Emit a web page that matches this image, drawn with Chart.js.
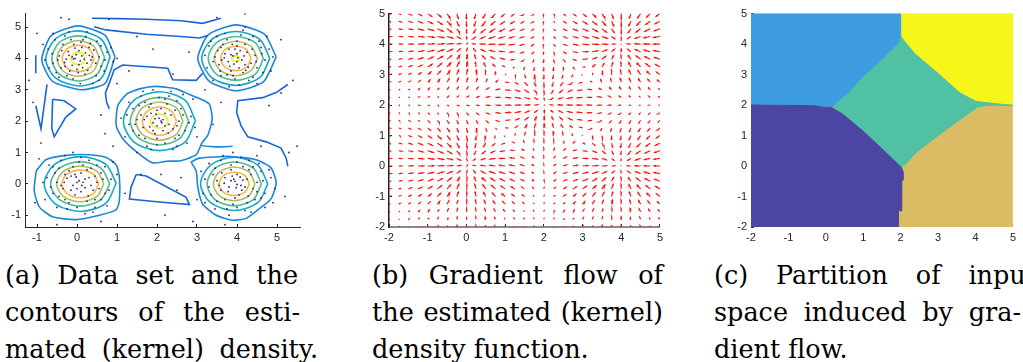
<!DOCTYPE html>
<html>
<head>
<meta charset="utf-8">
<script src="https://cdn.jsdelivr.net/npm/chart.js@4.4.1/dist/chart.umd.min.js"></script>
<style>
  body { margin: 0; background: #fff; width: 1023px; height: 362px; overflow: hidden; position: relative; }
  canvas { position: absolute; top: 0; }
  .cap { position: absolute; font-family: "DejaVu Serif", serif; font-size: 25.5px; color: #000; }
  .cap div { height: 37px; line-height: 37px; white-space: nowrap; text-align: justify; text-align-last: justify; }
</style>
</head>
<body>
<canvas id="density" width="310" height="245" style="left:0px"></canvas>
<canvas id="flow" width="330" height="245" style="left:340px"></canvas>
<canvas id="partition" width="333" height="245" style="left:690px"></canvas>

<div class="cap" style="left:5px;top:257px">
  <div style="width:293px">(a) Data set and the</div>
  <div style="width:295px">contours of the esti-</div>
  <div style="width:313px">mated (kernel) density.</div>
</div>
<div class="cap" style="left:372px;top:257px">
  <div style="width:291px">(b) Gradient flow of</div>
  <div style="width:291px">the estimated (kernel)</div>
  <div style="width:176px">density function.</div>
</div>
<div class="cap" style="left:714px;top:257px">
  <div style="width:322px">(c) Partition of input</div>
  <div style="width:307px">space induced by gra-</div>
  <div style="width:122px">dient flow.</div>
</div>

<script>
// ---- sample points (x, y pairs) ----
const clusterA = [-0.12,4.05, 0.08,3.92, 0.21,4.18, -0.31,3.87, 0.35,3.95, -0.05,4.33, 0.14,3.71, -0.22,4.22, 0.42,4.27, -0.44,4.08,
  0.03,3.55, 0.27,3.62, -0.18,3.6, 0.55,4.05, -0.6,3.85, 0.1,4.52, -0.35,4.45, 0.33,4.48, -0.02,4.12, 0.18,3.98,
  -0.27,3.98, 0.6,3.75, -0.52,3.55, 0.48,3.45, -0.1,3.35, 0.75,4.2, -0.72,4.3, 0.22,4.7, -0.3,4.72, 0.05,3.8,
  -0.09,3.98, 0.31,4.1, -0.4,3.7, 0.12,4.35, -0.15,4.6, 0.68,3.6, -0.8,3.95, 0.9,3.9, 0.4,3.2, -0.55,4.6,
  -0.05,4.0, 0.12,4.08, -0.2,4.1, 0.25,3.85, -0.12,3.78, 0.05,4.25, 0.38,4.05, -0.38,4.25, 0.2,3.5, -0.25,3.45,
  0.47,3.85, -0.48,3.95, 0.15,4.6, -0.08,4.45, 0.6,4.4, -0.62,4.15, 0.0,3.65, 0.3,4.35, -0.3,3.75, 0.5,4.55,
  -0.45,3.4, 0.7,3.95, -0.7,3.7, 0.25,4.85, -0.2,4.85, 0.08,3.2, 0.85,4.35, -0.85,4.45, 0.55,3.3, -0.6,4.8];
const clusterB = [3.9,4.08, 4.12,3.95, 3.78,3.9, 4.25,4.2, 3.95,4.3, 4.05,3.7, 3.7,4.15, 4.35,3.85, 3.85,3.6, 4.2,4.45,
  3.6,4.35, 4.45,4.1, 4.02,4.02, 3.88,4.45, 4.15,3.55, 3.55,3.8, 4.5,3.7, 3.75,4.6, 4.3,4.6, 4.6,4.35,
  3.45,4.05, 4.1,4.75, 3.95,3.35, 4.4,3.4, 3.6,3.45, 4.7,3.95, 3.3,4.4, 4.0,4.15, 4.18,4.08, 3.82,3.75,
  4.28,3.72, 3.68,4.02, 4.55,4.55, 3.5,4.7, 4.8,4.3, 4.05,3.15, 3.25,3.7, 4.85,3.6, 4.2,5.0, 3.4,3.3,
  4.0,3.9, 3.85,4.12, 4.2,3.8, 3.8,4.3, 4.08,4.25, 3.92,3.82, 4.38,4.3, 3.62,3.95, 4.22,3.62, 3.75,3.48,
  4.48,3.9, 3.52,4.25, 4.0,4.55, 4.15,4.9, 3.7,4.8, 4.62,4.15, 3.4,3.9, 4.4,4.7, 3.58,3.6, 4.65,3.55,
  3.9,3.45, 4.3,3.3, 3.35,4.55, 4.75,4.7, 4.0,4.4, 3.65,4.45, 4.5,3.2, 3.2,4.1, 4.9,4.05, 3.8,3.1];
const clusterC = [2.05,2.1, 1.9,1.95, 2.2,1.85, 1.75,2.15, 2.35,2.2, 2.1,2.4, 1.95,1.6, 2.4,1.75, 1.65,1.8, 2.25,2.55,
  1.8,2.45, 2.55,2.0, 1.5,2.05, 2.0,1.85, 2.15,2.05, 1.85,2.25, 2.6,2.4, 1.55,2.5, 2.45,1.45, 1.7,1.45,
  2.05,2.75, 1.4,1.7, 2.7,1.7, 2.3,2.8, 1.6,2.8, 2.0,1.25, 2.85,2.15, 1.25,2.2, 2.5,2.65, 1.75,1.2,
  2.12,1.95, 1.98,2.22, 2.28,1.62, 1.68,2.05, 2.4,1.1, 1.3,2.6, 2.9,2.7, 1.9,3.0, 2.75,1.3, 1.2,1.5,
  2.1,2.0, 1.95,2.08, 2.2,2.25, 1.82,1.82, 2.3,1.9, 2.0,2.35, 1.6,2.2, 2.45,2.35, 1.9,1.7, 2.15,1.7,
  2.5,1.85, 1.7,2.6, 2.2,2.7, 1.45,1.9, 2.65,2.2, 1.85,2.55, 2.55,1.55, 1.55,1.55, 2.0,1.45, 2.35,2.95,
  1.4,2.4, 2.8,1.95, 1.65,2.95, 2.65,2.85, 1.3,1.9, 2.2,1.3, 1.85,1.1, 2.95,1.8, 1.1,2.1, 2.5,1.2];
const clusterD = [0.05,0.1, -0.1,-0.05, 0.2,-0.12, -0.25,0.18, 0.3,0.2, 0.1,0.35, -0.05,-0.35, 0.4,-0.2, -0.35,-0.15, 0.25,0.45,
  -0.2,0.42, 0.5,0.05, -0.5,0.05, 0.0,-0.15, 0.15,0.05, -0.15,0.25, 0.6,0.35, -0.45,0.5, 0.45,-0.5, -0.3,-0.5,
  0.05,0.7, -0.6,-0.3, 0.7,-0.3, 0.3,0.75, -0.4,0.75, 0.0,-0.75, 0.85,0.15, -0.75,0.2, 0.5,0.6, -0.25,-0.8,
  0.12,-0.05, -0.02,0.22, 0.28,-0.38, -0.32,0.05, 0.4,-0.9, -0.7,0.6, 0.9,0.7, -0.1,1.0, 0.75,-0.7, -0.8,-0.5,
  0.0,0.05, 0.2,0.15, -0.15,-0.2, 0.35,-0.05, -0.05,0.3, 0.1,-0.25, -0.3,0.3, 0.45,0.25, -0.4,-0.05, 0.25,-0.55,
  -0.1,0.55, 0.55,-0.15, -0.55,0.35, 0.15,0.6, -0.2,-0.6, 0.65,0.15, -0.65,-0.1, 0.35,0.5, -0.45,-0.4, 0.6,-0.5,
  0.1,0.85, -0.6,0.55, 0.8,-0.2, -0.3,0.9, 0.2,-0.95, -0.85,0.05, 0.7,0.55, -0.5,-0.75, 1.0,0.3, 0.45,-0.75];
const clusterE = [3.95,0.08, 4.1,-0.05, 3.8,-0.1, 4.25,0.15, 3.7,0.2, 4.0,0.3, 4.05,-0.35, 3.6,-0.2, 4.4,-0.15, 3.85,0.45,
  4.3,0.45, 3.5,0.1, 4.5,0.05, 3.98,-0.12, 4.15,0.12, 3.88,0.25, 4.6,0.4, 3.45,0.5, 4.45,-0.5, 3.7,-0.5,
  4.0,0.7, 3.35,-0.35, 4.7,-0.3, 4.3,0.75, 3.6,0.75, 4.0,-0.75, 4.85,0.2, 3.2,0.15, 4.55,0.65, 3.75,-0.8,
  4.12,-0.2, 3.92,0.15, 4.28,-0.38, 3.68,0.02, 4.35,-0.9, 3.3,0.65, 4.9,-0.6, 3.9,1.0, 4.7,-0.75, 3.2,-0.6,
  4.0,-0.02, 3.85,0.1, 4.2,-0.1, 3.78,-0.25, 4.08,0.22, 3.95,-0.45, 4.35,0.3, 3.62,0.35, 4.5,-0.25, 3.55,-0.05,
  4.25,-0.6, 3.85,0.6, 4.15,0.55, 3.4,0.3, 4.65,0.1, 3.5,-0.55, 4.4,0.55, 3.9,-0.65, 4.6,-0.45, 3.3,-0.1,
  4.1,0.85, 3.65,0.9, 4.8,0.45, 3.45,-0.8, 4.2,-0.85, 3.1,0.4, 4.95,-0.15, 3.8,-1.0, 4.5,0.9, 3.15,-0.3];
const strayPoints = [-1.1,2.6, -0.9,1.3, -1.05,-0.6, 0.6,2.2, 1.0,3.2, 0.9,1.2, 1.2,-0.3, 1.6,0.3, 2.6,0.2, 3.0,-0.5,
  3.0,1.5, 3.2,3.0, 2.8,4.2, 1.5,4.7, 0.8,5.25, 3.5,5.3, 4.2,5.42, 5.1,4.6, 5.3,1.0, 5.2,-0.4,
  5.1,2.9, 2.2,-1.0, -0.5,-1.3, 1.0,4.0, -0.4,5.3, -1.0,4.8, 2.4,3.5, 4.6,1.2, 1.5,1.0, 2.9,-1.2,
  -1.2,3.3, -0.95,0.8, 0.7,1.6, 1.3,3.6, 2.1,0.3, 2.5,-0.2, 3.4,1.9, 3.6,2.6, 4.8,2.5, 5.4,3.3,
  5.5,1.2, 0.6,-1.2, 3.7,-1.3, 1.9,4.3, -0.2,5.25];

// ---- density contours, one list per level (closed rings, x, y pairs) ----
const yellowRings = [
  [0.21,4.0, 0.16,4.14, 0.03,4.2, -0.1,4.14, -0.15,4.0, -0.1,3.86, 0.03,3.8, 0.16,3.86, 0.21,4.0],
  [4.07,4.0, 4.04,4.06, 3.97,4.09, 3.9,4.06, 3.87,4.0, 3.9,3.94, 3.97,3.91, 4.04,3.94, 4.07,4.0],
  [2.28,2.0, 2.22,2.16, 2.06,2.22, 1.9,2.16, 1.84,2.0, 1.9,1.84, 2.06,1.78, 2.22,1.84, 2.28,2.0]
];
const orangeRings = [
  [0.43,4.0, 0.31,4.3, 0.03,4.42, -0.25,4.3, -0.37,4.0, -0.25,3.7, 0.03,3.58, 0.31,3.7, 0.43,4.0],
  [4.35,4.0, 4.24,4.28, 3.97,4.39, 3.7,4.28, 3.59,4.0, 3.7,3.72, 3.97,3.61, 4.24,3.72, 4.35,4.0],
  [2.49,2.0, 2.36,2.32, 2.06,2.45, 1.76,2.32, 1.63,2.0, 1.76,1.68, 2.06,1.55, 2.36,1.68, 2.49,2.0],
  [0.54,0.0, 0.41,0.31, 0.08,0.44, -0.25,0.31, -0.38,0.0, -0.25,-0.31, 0.08,-0.44, 0.41,-0.31, 0.54,0.0],
  [4.31,0.0, 4.2,0.26, 3.93,0.37, 3.66,0.26, 3.55,0.0, 3.66,-0.26, 3.93,-0.37, 4.2,-0.26, 4.31,0.0]
];
const oliveRings = [
  [0.56,4.02, 0.41,4.4, 0.03,4.57, -0.35,4.4, -0.5,4.0, -0.35,3.6, 0.03,3.43, 0.41,3.6, 0.56,4.02],
  [4.51,4.0, 4.35,4.39, 3.97,4.55, 3.59,4.39, 3.43,4.0, 3.59,3.61, 3.97,3.45, 4.35,3.61, 4.51,4.0],
  [2.65,2.0, 2.48,2.43, 2.06,2.61, 1.64,2.43, 1.47,2.0, 1.64,1.57, 2.06,1.39, 2.48,1.57, 2.65,2.0],
  [0.67,0.0, 0.5,0.4, 0.08,0.57, -0.34,0.4, -0.51,0.0, -0.34,-0.4, 0.08,-0.57, 0.5,-0.4, 0.67,0.0],
  [4.45,0.0, 4.3,0.38, 3.93,0.54, 3.56,0.38, 3.41,0.0, 3.56,-0.38, 3.93,-0.54, 4.3,-0.38, 4.45,0.0]
];
const greenRings = [
  [0.69,4.03, 0.5,4.51, 0.02,4.72, -0.44,4.51, -0.63,4.0, -0.44,3.49, 0.05,3.28, 0.5,3.49, 0.69,4.03],
  [4.66,4.0, 4.46,4.5, 3.97,4.7, 3.48,4.5, 3.28,4.0, 3.48,3.5, 3.97,3.3, 4.46,3.5, 4.66,4.0],
  [2.79,2.0, 2.58,2.54, 2.06,2.76, 1.54,2.54, 1.33,2.0, 1.54,1.46, 2.06,1.24, 2.58,1.46, 2.79,2.0],
  [0.82,0.0, 0.6,0.5, 0.08,0.71, -0.44,0.5, -0.66,0.0, -0.44,-0.5, 0.08,-0.71, 0.6,-0.5, 0.82,0.0],
  [4.61,0.0, 4.41,0.5, 3.93,0.7, 3.45,0.5, 3.25,0.0, 3.45,-0.5, 3.93,-0.7, 4.41,-0.5, 4.61,0.0]
];
const cyanRings = [
  [0.83,4.05, 0.6,4.62, 0.0,4.88, -0.54,4.62, -0.78,3.98, -0.54,3.38, 0.06,3.12, 0.6,3.36, 0.83,4.05],
  [4.82,4.0, 4.57,4.61, 3.97,4.86, 3.37,4.61, 3.12,4.0, 3.37,3.39, 3.97,3.14, 4.57,3.39, 4.82,4.0],
  [2.96,2.02, 2.7,2.67, 2.06,2.94, 1.42,2.66, 1.16,2.0, 1.42,1.34, 2.06,1.06, 2.7,1.33, 2.96,2.02],
  [0.98,0.02, 0.72,0.62, 0.08,0.87, -0.56,0.62, -0.82,0.0, -0.56,-0.62, 0.08,-0.88, 0.72,-0.62, 0.98,0.02],
  [4.77,0.0, 4.52,0.6, 3.93,0.85, 3.34,0.6, 3.09,0.0, 3.34,-0.6, 3.93,-0.85, 4.52,-0.6, 4.77,0.0]
];
const blueRings = [
  [0.95,4.05, 0.7,4.74, 0.02,5.04, -0.65,4.72, -0.88,3.95, -0.62,3.28, 0.1,3.0, 0.7,3.2, 0.95,4.05],
  [4.98,4.05, 4.68,4.78, 3.97,5.07, 3.28,4.75, 3.02,4.0, 3.3,3.28, 3.98,2.97, 4.66,3.25, 4.98,4.05],
  [3.89,1.2, 3.5,1.18, 3.1,1.24, 3.27,1.55, 3.38,2.07, 3.31,2.54, 3.1,2.7, 2.81,2.85, 2.48,3.03, 1.98,3.11,
   1.56,3.03, 1.23,2.85, 1.02,2.49, 0.98,1.86, 1.14,1.45, 1.48,1.03, 1.89,0.67, 2.23,0.72, 2.6,0.74, 2.98,0.93, 3.1,1.24],
  [-1.02,0.41, -0.78,0.77, -0.28,0.91, 0.31,0.93, 0.73,0.84, 0.98,0.61, 1.06,0.2, 1.06,-0.53, 0.98,-0.82, 0.56,-1.0,
   -0.03,-1.14, -0.61,-1.05, -0.94,-0.74, -1.07,-0.22, -1.02,0.41],
  [2.85,0.7, 3.06,0.82, 3.81,0.875, 4.48,0.77, 4.85,0.51, 4.98,0.04, 4.85,-0.48, 4.56,-0.79, 4.23,-1.1, 3.89,-1.16,
   3.48,-1.0, 3.14,-0.64, 3.02,-0.11, 2.98,0.41, 2.85,0.7]
];
// lowest level: open lines and holes between the clusters
const outerLines = [
  [0.37,5.28, 1.0,5.27, 1.73,5.25, 2.6,5.2, 3.14,5.12, 3.6,5.28],
  [0.43,5.01, 0.72,4.91, 1.73,4.77, 2.6,4.7, 3.06,4.65, 3.27,4.73],
  [0.81,2.39, 0.74,2.6, 0.71,2.9, 0.81,3.22, 0.93,3.64, 1.14,3.79, 2.27,3.69, 2.39,3.32, 2.98,3.3, 3.14,3.53],
  [-1.03,2.49, -0.9,1.76, -0.75,3.17],
  [-0.61,2.7, -0.32,2.65, -0.03,2.39, -0.28,2.13, -0.57,1.5, -0.63,1.76, -0.61,2.7],
  [-1.03,4.1, -1.03,3.53],
  [1.48,0.3, 1.73,0.25, 2.73,-0.43, 2.81,-0.66, 2.06,-0.58, 1.31,-0.48, 1.35,-0.11, 1.48,0.3],
  [5.27,3.17, 4.98,2.91, 4.64,2.75, 4.02,2.65, 3.99,2.28, 4.1,1.86, 4.27,1.5, 4.73,1.34, 5.1,1.14, 5.23,0.82, 5.27,0.56]
];

// ---- gradient flow grid and kernel width ----
const flowGrid = [-2,-1.75,-1.5,-1.25,-1,-0.75,-0.5,-0.25,0,0.25,0.5,0.75,1,1.25,1.5,1.75,2,2.25,2.5,2.75,3,3.25,3.5,3.75,4,4.25,4.5,4.75,5];
const bandwidth = 0.7;

// ---- partition regions (polygons, x, y pairs) ----
const regionPurple = [-2,-2, 1.94,-2, 1.94,-1.47, 2.03,-1.47, 2.03,-0.5, 2.07,-0.45, 2.07,-0.2, 2.02,-0.05,
  1.6,0.45, 1.0,1.14, 0.45,1.7, 0.15,1.92, -0.1,1.93, -0.3,1.98, -2,2.0];
const regionBlue = [-2,2.0, -0.3,1.98, -0.1,1.93, 0.15,1.92, 0.55,2.35, 1.0,2.95, 1.5,3.5, 1.92,4.02, 2.0,4.25, 2.0,5, -2,5];
const regionTeal = [0.15,1.92, 0.45,1.7, 1.0,1.14, 1.6,0.45, 2.02,-0.05, 2.12,0.05, 2.46,0.49, 3.15,1.14, 4.05,1.93, 4.3,1.99,
  5,1.99, 4.57,2.04, 4.01,2.12, 3.58,2.4, 2.98,3.06, 2.38,3.68, 2.0,4.25, 1.92,4.02, 1.5,3.5, 1.0,2.95, 0.55,2.35];
const regionYellow = [2.0,5, 5,5, 5,1.99, 4.57,2.04, 4.01,2.12, 3.58,2.4, 2.98,3.06, 2.38,3.68, 2.0,4.25];
const regionTan = [5,-2, 1.94,-2, 1.94,-1.47, 2.03,-1.47, 2.03,-0.5, 2.07,-0.45, 2.07,-0.2, 2.02,-0.05, 2.12,0.05,
  2.46,0.49, 3.15,1.14, 4.05,1.93, 4.3,1.99, 5,1.99];

const axisTicksA = [-1, 0, 1, 2, 3, 4, 5];
const axisTicksBC = [-2, -1, 0, 1, 2, 3, 4, 5];

// ---- helpers ----
const toXY = flat => {
  const out = [];
  for (let i = 0; i < flat.length; i += 2) out.push({x: flat[i], y: flat[i + 1]});
  return out;
};

function axis(min, max, ticks, size, horizontal) {
  return {
    type: 'linear', min, max,
    afterBuildTicks: s => { s.ticks = ticks.map(v => ({value: v})); },
    afterFit: s => { if (horizontal) s.height = size; else s.width = size; },
    grid: {drawOnChartArea: false, drawTicks: true, tickLength: -3, color: '#262626'},
    border: {display: true, color: '#262626', width: 1},
    ticks: {padding: 7, color: '#262626', font: {size: 11}, maxRotation: 0, autoSkip: false}
  };
}

function baseOptions(pad, xs, ys) {
  return {
    responsive: false, animation: false, devicePixelRatio: 1, events: [],
    layout: {padding: pad},
    plugins: {legend: {display: false}, tooltip: {enabled: false}},
    scales: {x: xs, y: ys}
  };
}

function lineSet(flat, color, width, tension) {
  return {data: toXY(flat), showLine: true, borderColor: color, borderWidth: width,
          pointRadius: 0, tension: tension, fill: false};
}

Chart.defaults.font.family = '"Liberation Sans", Arial, sans-serif';

// ---- (a) data set and density contours ----
const allPoints = [].concat(clusterA, clusterB, clusterC, clusterD, clusterE, strayPoints);
const contourSets = [];
const levels = [
  [outerLines, '#1766d6', 0], [blueRings, '#1e86d8', 0.2], [cyanRings, '#12a8c8', 0.3],
  [greenRings, '#4dbd91', 0.3], [oliveRings, '#acbd62', 0.3], [orangeRings, '#f6b73c', 0.3], [yellowRings, '#eef01c', 0.3]
];
levels.forEach(([rings, color, t]) => rings.forEach(r => contourSets.push(lineSet(r, color, 1.6, t))));

new Chart(document.getElementById('density'), {
  type: 'scatter',
  data: {datasets: [
    {data: toXY(allPoints), pointRadius: 0.9, pointBackgroundColor: '#2e2088', pointBorderWidth: 0},
    ...contourSets
  ]},
  options: baseOptions({top: 9, right: 10, left: 0, bottom: 0},
    axis(-1.3, 5.575, axisTicksA, 18, true), axis(-1.375, 5.43, axisTicksA, 25, false))
});

// ---- (b) gradient of the kernel density estimate ----
const px = [], py = [];
for (let i = 0; i < allPoints.length; i += 2) { px.push(allPoints[i]); py.push(allPoints[i + 1]); }
const field = [];
let maxLen = 0;
flowGrid.forEach(gx => flowGrid.forEach(gy => {
  let u = 0, v = 0;
  for (let k = 0; k < px.length; k++) {
    const dx = px[k] - gx, dy = py[k] - gy;
    const w = Math.exp(-(dx * dx + dy * dy) / (2 * bandwidth * bandwidth));
    u += w * dx; v += w * dy;
  }
  field.push([gx, gy, u, v]);
  maxLen = Math.max(maxLen, Math.hypot(u, v));
}));
// arrow length: gradient size, gently compressed so weak arrows stay visible
const arrows = [];
const gap = {x: null, y: null};
field.forEach(([x, y, u, v]) => {
  const m = Math.hypot(u, v);
  if (m === 0) return;
  const len = 0.17 * Math.pow(m / maxLen, 0.75);
  u = u / m * len; v = v / m * len;
  const tx = x + u, ty = y + v, a = 0.33, b = 0.33;
  arrows.push({x, y}, {x: tx, y: ty}, gap,
    {x: tx - a * (u + b * v), y: ty - a * (v - b * u)}, {x: tx, y: ty},
    {x: tx - a * (u - b * v), y: ty - a * (v + b * u)}, gap);
});

const flowX = axis(-2, 5, axisTicksBC, 18, true);
flowX.border = {display: true, color: '#8a8a8a', width: 2};
const flowY = axis(-2, 5, axisTicksBC, 49, false);
flowY.border = {display: true, color: '#222', width: 1.5};
new Chart(document.getElementById('flow'), {
  type: 'scatter',
  data: {datasets: [{data: arrows, showLine: true, spanGaps: false, borderColor: '#ff1010',
                     borderWidth: 1.15, pointRadius: 0, tension: 0}]},
  options: baseOptions({top: 11, right: 10, left: 0, bottom: 0}, flowX, flowY)
});

// ---- (c) partition induced by the flow ----
function regionSet(flat, color) {
  return {data: toXY(flat), showLine: true, fill: 'shape', backgroundColor: color,
          borderColor: color, borderWidth: 1, pointRadius: 0, tension: 0};
}
const partX = axis(-2, 5, axisTicksBC, 18, true);
const partY = axis(-2, 5, axisTicksBC, 61, false);
partX.border = {display: false};
partY.border = {display: true, color: 'rgba(30,30,60,0.45)', width: 1};
new Chart(document.getElementById('partition'), {
  type: 'scatter',
  data: {datasets: [
    regionSet(regionPurple, '#4a46a2'), regionSet(regionBlue, '#3e9de1'), regionSet(regionTeal, '#50c1a2'),
    regionSet(regionYellow, '#f7f61b'), regionSet(regionTan, '#dbbb63')
  ]},
  options: baseOptions({top: 11, right: 1, left: 0, bottom: 0}, partX, partY)
});
</script>
</body>
</html>
